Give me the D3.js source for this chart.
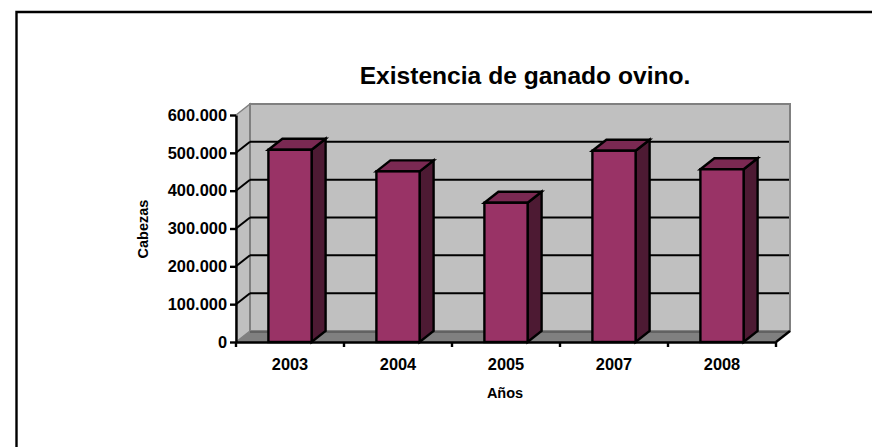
<!DOCTYPE html>
<html>
<head>
<meta charset="utf-8">
<script src="https://cdn.jsdelivr.net/npm/d3@7"></script>
<style>
  html, body { margin: 0; padding: 0; background: #fff; }
  svg { display: block; }
  text { font-family: "Liberation Sans", Arial, sans-serif; font-weight: bold; fill: #000; }
</style>
</head>
<body>
<div id="chart"></div>
<script>
// Data
const years = ["2003", "2004", "2005", "2007", "2008"];
const cabezas = [508000, 451000, 368000, 505500, 456500];
const yTicks = [0, 100000, 200000, 300000, 400000, 500000, 600000];

const width = 872, height = 447;
// Front plane of the 3d box, and the depth offset to the back wall
const margin = { top: 115, right: 96, bottom: 105, left: 236 };
const depthX = 14, depthY = 11;

const svg = d3.select("#chart").append("svg")
    .attr("width", width)
    .attr("height", height);

// Outer frame runs off the right and bottom of the picture
svg.append("path")
    .attr("d", "M16.5," + height + "V12H" + width)
    .attr("fill", "none")
    .attr("stroke", "#000")
    .attr("stroke-width", 2.4);

let x = d3.scaleBand()
    .domain(years)
    .range([margin.left, width - margin.right])
    .paddingInner(0.6)
    .paddingOuter(0.3);

let y = d3.scaleLinear()
    .domain([0, 600000])
    .range([height - margin.bottom, margin.top]);

const x0 = x.range()[0], x1 = x.range()[1];
const y0 = y(0), yTop = y(600000);

const poly = pts => pts.map(p => p.join(",")).join(" ");

// Side wall, back wall and floor
svg.append("polygon")
    .attr("points", poly([[x0, y0], [x0, yTop], [x0 + depthX, yTop - depthY], [x0 + depthX, y0 - depthY]]))
    .attr("fill", "#c0c0c0")
    .attr("stroke", "#808080")
    .attr("stroke-width", 1.5);

svg.append("rect")
    .attr("x", x0 + depthX)
    .attr("y", yTop - depthY)
    .attr("width", x1 - x0)
    .attr("height", y0 - yTop)
    .attr("fill", "#c0c0c0")
    .attr("stroke", "#808080")
    .attr("stroke-width", 2);

svg.append("polygon")
    .attr("points", poly([[x0, y0], [x1, y0], [x1 + depthX, y0 - depthY], [x0 + depthX, y0 - depthY]]))
    .attr("fill", "#808080");

svg.append("line")
    .attr("x1", x0 + depthX).attr("x2", x1 + depthX)
    .attr("y1", y0 - depthY + 1).attr("y2", y0 - depthY + 1)
    .attr("stroke", "#444")
    .attr("stroke-width", 1);

// Gridlines on the back wall, with the slanted part on the side wall
const grid = yTicks.filter(d => d > 0 && d < 600000);
svg.append("g").selectAll("line")
    .data(grid)
    .join("line")
    .attr("x1", x0 + depthX)
    .attr("x2", x1 + depthX - 1)
    .attr("y1", d => y(d) - depthY)
    .attr("y2", d => y(d) - depthY)
    .attr("stroke", "#000")
    .attr("stroke-width", 2);

svg.append("g").selectAll("line")
    .data(grid)
    .join("line")
    .attr("x1", x0)
    .attr("x2", x0 + depthX)
    .attr("y1", d => y(d))
    .attr("y2", d => y(d) - depthY)
    .attr("stroke", "#000")
    .attr("stroke-width", 2);

// Slanted floor edge on the right
svg.append("line")
    .attr("x1", x1).attr("y1", y0)
    .attr("x2", x1 + depthX).attr("y2", y0 - depthY)
    .attr("stroke", "#000")
    .attr("stroke-width", 2.4);

// Bars: side and top faces first, then the front
const bars = svg.append("g")
    .attr("stroke", "#000")
    .attr("stroke-width", 2.4)
    .attr("stroke-linejoin", "miter")
    .selectAll("g")
    .data(years.map((d, i) => ({ year: d, value: cabezas[i] })))
    .join("g");

bars.append("polygon")
    .attr("fill", "#4d1a33")
    .attr("points", d => {
        const r = x(d.year) + x.bandwidth();
        return poly([[r, y0], [r, y(d.value)], [r + depthX, y(d.value) - depthY], [r + depthX, y0 - depthY]]);
    });

bars.append("polygon")
    .attr("fill", "#7a2952")
    .attr("points", d => {
        const l = x(d.year), r = l + x.bandwidth();
        return poly([[l, y(d.value)], [l + depthX, y(d.value) - depthY], [r + depthX, y(d.value) - depthY], [r, y(d.value)]]);
    });

bars.append("rect")
    .attr("fill", "#993366")
    .attr("x", d => x(d.year))
    .attr("y", d => y(d.value))
    .attr("width", x.bandwidth())
    .attr("height", d => y0 - y(d.value));

// Axes
const es = d3.formatLocale({ decimal: ",", thousands: ".", grouping: [3], currency: ["", "€"] });

let yAxis = d3.axisLeft(y)
    .tickValues(yTicks)
    .tickFormat(es.format(",d"))
    .tickSize(6)
    .tickSizeOuter(0)
    .tickPadding(3);

let xAxis = d3.axisBottom(x)
    .tickSize(0)
    .tickPadding(16);

const yAxisEl = svg.append("g")
    .attr("transform", "translate(" + x0 + ",0)")
    .call(yAxis);

const xAxisEl = svg.append("g")
    .attr("transform", "translate(0," + y0 + ")")
    .call(xAxis);

[yAxisEl, xAxisEl].forEach(g => {
    g.selectAll(".domain").attr("stroke", "#000").attr("stroke-width", 2.4);
    g.selectAll(".tick line").attr("stroke", "#000").attr("stroke-width", 2.4);
    g.selectAll("text").attr("font-size", 16.4).attr("font-family", null).style("fill", "#000");
});

// Category separators on the x axis
const edges = years.map(d => x(d) - x.step() * 0.3).concat([x1]);
svg.append("g").selectAll("line")
    .data(edges)
    .join("line")
    .attr("x1", d => d).attr("x2", d => d)
    .attr("y1", y0).attr("y2", y0 + 5)
    .attr("stroke", "#000")
    .attr("stroke-width", 2.4);

// Titles
svg.append("text")
    .attr("x", 525)
    .attr("y", 84)
    .attr("text-anchor", "middle")
    .attr("font-size", 24.6)
    .text("Existencia de ganado ovino.");

svg.append("text")
    .attr("transform", "translate(148,229) rotate(-90)")
    .attr("text-anchor", "middle")
    .attr("font-size", 14.5)
    .text("Cabezas");

svg.append("text")
    .attr("x", 505)
    .attr("y", 398)
    .attr("text-anchor", "middle")
    .attr("font-size", 14.5)
    .text("Años");
</script>
</body>
</html>
